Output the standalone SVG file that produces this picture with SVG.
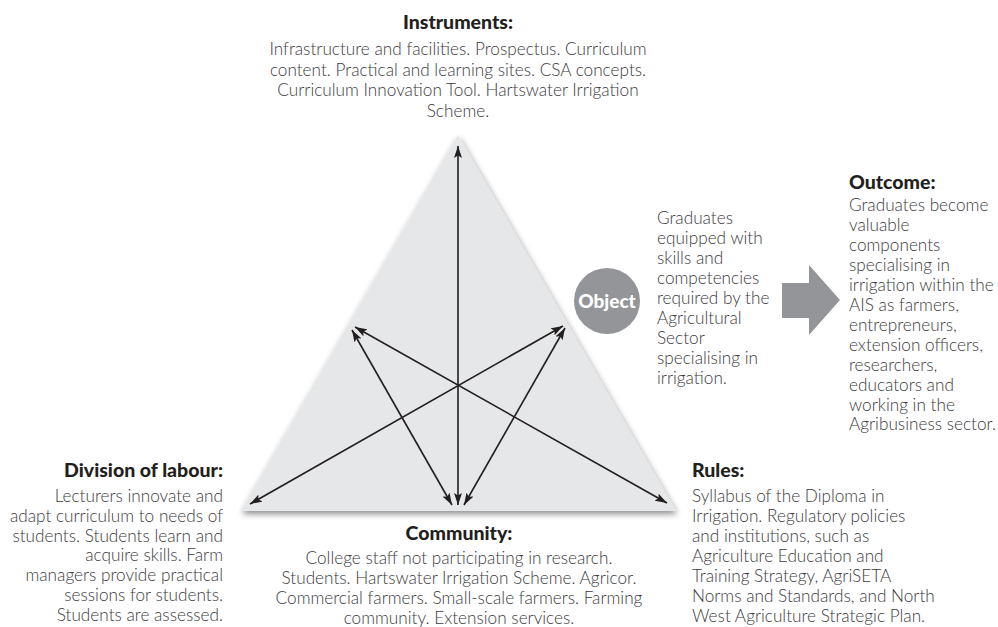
<svg xmlns="http://www.w3.org/2000/svg" width="998" height="627" viewBox="0 0 998 627">
<defs>
<style>
.h{font-family:Lato,"Source Sans Pro","Liberation Sans",sans-serif;font-weight:900;font-size:19.5px;fill:#231f20}
.b{font-family:Lato,"Source Sans Pro","Liberation Sans",sans-serif;font-weight:300;font-size:17.2px;fill:#3c3b3d}
.c{text-anchor:middle}
.r{text-anchor:end}
.arr{stroke:#231f20;stroke-width:1.6;fill:none;marker-start:url(#ah);marker-end:url(#ah)}
</style>
<marker id="ah" markerUnits="userSpaceOnUse" viewBox="0 0 12 8" refX="12" refY="4" markerWidth="12" markerHeight="8" orient="auto-start-reverse">
<path d="M0,0 L12,4 L0,8 L2.5,4 z" fill="#231f20"/>
</marker>
<filter id="sh" x="-10%" y="-10%" width="120%" height="125%">
<feDropShadow dx="1" dy="3" stdDeviation="3" flood-color="#000" flood-opacity="0.45"/>
</filter>
</defs>
<rect width="998" height="627" fill="#fff"/>

<g id="triangle">
<polygon points="458,135 676,511 241,511" fill="#e6e7e8" filter="url(#sh)"/>
</g>

<g id="connectors">
<line class="arr" x1="458" y1="146" x2="458" y2="505"/>
<line class="arr" x1="355" y1="327" x2="667" y2="503"/>
<line class="arr" x1="563" y1="326" x2="250" y2="504"/>
<line class="arr" x1="352" y1="330" x2="452" y2="505"/>
<line class="arr" x1="565" y1="328" x2="464" y2="505"/>
</g>

<g id="instruments">
<text class="h c" x="458" y="29">Instruments:</text>
<text class="b c" x="458" y="55">Infrastructure and facilities. Prospectus. Curriculum</text>
<text class="b c" x="458" y="75.5">content. Practical and learning sites. CSA concepts.</text>
<text class="b c" x="458" y="96">Curriculum Innovation Tool. Hartswater Irrigation</text>
<text class="b c" x="458" y="116.5">Scheme.</text>
</g>

<g id="object">
<circle cx="607" cy="301" r="33" fill="#939598"/>
<text class="h c" x="607" y="307.5" style="fill:#fff;font-size:19px">Object</text>
<text class="b" x="657" y="224">Graduates</text>
<text class="b" x="657" y="244">equipped with</text>
<text class="b" x="657" y="264">skills and</text>
<text class="b" x="657" y="284">competencies</text>
<text class="b" x="657" y="304">required by the</text>
<text class="b" x="657" y="324">Agricultural</text>
<text class="b" x="657" y="343.5">Sector</text>
<text class="b" x="657" y="363.5">specialising in</text>
<text class="b" x="657" y="383.5">irrigation.</text>
</g>

<g id="transition-arrow">
<polygon points="782,283 809,283 809,265 840,300 809,335 809,318 782,318" fill="#939598"/>
</g>

<g id="outcome">
<text class="h" x="849" y="189">Outcome:</text>
<text class="b" x="849" y="211">Graduates become</text>
<text class="b" x="849" y="231">valuable</text>
<text class="b" x="849" y="251">components</text>
<text class="b" x="849" y="271">specialising in</text>
<text class="b" x="849" y="291">irrigation within the</text>
<text class="b" x="849" y="311">AIS as farmers,</text>
<text class="b" x="849" y="331">entrepreneurs,</text>
<text class="b" x="849" y="351">extension officers,</text>
<text class="b" x="849" y="370.5">researchers,</text>
<text class="b" x="849" y="390.5">educators and</text>
<text class="b" x="849" y="410.5">working in the</text>
<text class="b" x="849" y="430">Agribusiness sector.</text>
</g>

<g id="division-of-labour">
<text class="h r" x="223" y="477">Division of labour:</text>
<text class="b r" x="223" y="502">Lecturers innovate and</text>
<text class="b r" x="223" y="522">adapt curriculum to needs of</text>
<text class="b r" x="223" y="542">students. Students learn and</text>
<text class="b r" x="223" y="561">acquire skills. Farm</text>
<text class="b r" x="223" y="581">managers provide practical</text>
<text class="b r" x="223" y="601">sessions for students.</text>
<text class="b r" x="223" y="621">Students are assessed.</text>
</g>

<g id="community">
<text class="h c" x="459" y="540">Community:</text>
<text class="b c" x="459" y="564">College staff not participating in research.</text>
<text class="b c" x="459" y="584">Students. Hartswater Irrigation Scheme. Agricor.</text>
<text class="b c" x="459" y="604">Commercial farmers. Small-scale farmers. Farming</text>
<text class="b c" x="459" y="623.5">community. Extension services.</text>
</g>

<g id="rules">
<text class="h" x="692" y="477">Rules:</text>
<text class="b" x="692" y="502">Syllabus of the Diploma in</text>
<text class="b" x="692" y="522">Irrigation. Regulatory policies</text>
<text class="b" x="692" y="542">and institutions, such as</text>
<text class="b" x="692" y="562">Agriculture Education and</text>
<text class="b" x="692" y="582">Training Strategy, AgriSETA</text>
<text class="b" x="692" y="602">Norms and Standards, and North</text>
<text class="b" x="692" y="622">West Agriculture Strategic Plan.</text>
</g>
</svg>
